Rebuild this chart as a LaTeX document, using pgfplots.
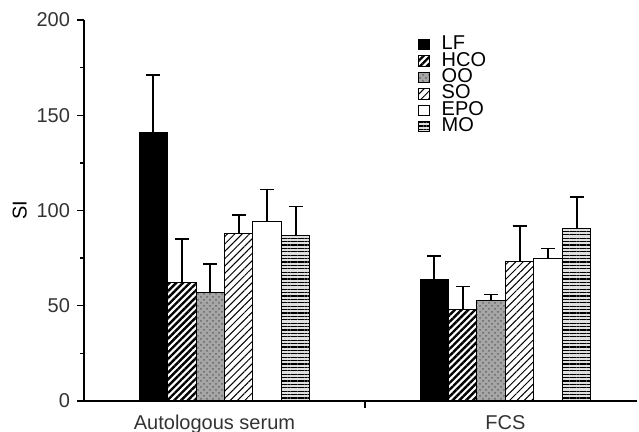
\documentclass[border=0pt]{standalone}
\usepackage{fontspec}
\setmainfont{Liberation Sans}
\usepackage{pgfplots}
\pgfplotsset{compat=1.18}
\usetikzlibrary{patterns,patterns.meta}

\begin{document}
\begin{tikzpicture}
\begin{axis}[
  scale only axis, width=276.5pt, height=190.5pt,
  xmin=-0.5, xmax=1.468, ymin=0, ymax=200,
  axis x line*=bottom, axis y line*=left,
  axis line style={line width=0.8pt, -},
  ybar=0pt, bar width=0.1014,
  ytick={0,50,...,200}, minor ytick={25,75,...,175},
  tick align=outside, major tick length=3.5pt, minor tick length=2pt,
  tick style={black, line width=0.7pt},
  xtick={0.5}, xticklabels={},
  extra x ticks={0,1}, extra x tick labels={\hspace*{-10pt}Autologous serum, FCS},
  extra x tick style={tick style={draw=none}},
  /pgf/number format/assume math mode=true,
  tick label style={font=\fontsize{10}{12}\selectfont, text=black!80},
  ylabel={SI},
  ylabel style={at={(axis description cs:-0.116,0.5)}, anchor=center, font=\fontsize{10}{12}\selectfont},
  error bars/y dir=plus, error bars/y explicit,
  error bars/error bar style={line width=0.8pt, black},
  error bars/error mark options={rotate=90, line width=0.8pt, mark size=3.5pt, black},
  legend style={draw=none, fill=none, at={(rel axis cs:0.593,0.965)}, anchor=north west,
    font=\fontsize{10}{11}\selectfont, row sep=1.2pt,
    nodes={inner ysep=0pt, text height=6pt, text depth=1pt},
    /tikz/every odd column/.append style={column sep=4pt}},
  legend cell align=left,
  legend image code/.code={\draw[#1,draw=black,line width=0.5pt] (0pt,-2.6pt) rectangle (5.2pt,2.6pt);},
]
% LF
\addplot[fill=black, draw=black, line width=0.5pt]
  coordinates {(0,141) +- (0,30) (1,64) +- (0,12)};
% HCO
\addplot[draw=black, line width=0.5pt, pattern={Lines[angle=45,distance=2.4pt,line width=1.2pt]}]
  coordinates {(0,62) +- (0,23) (1,48) +- (0,12)};
% OO
\addplot[draw=black, line width=0.5pt, fill=gray!70, postaction={pattern=crosshatch dots, pattern color=black!60}]
  coordinates {(0,57) +- (0,15) (1,52.5) +- (0,3.5)};
% SO
\addplot[draw=black, line width=0.5pt, pattern={Lines[angle=45,distance=2.6pt,line width=0.5pt]}]
  coordinates {(0,88) +- (0,9.5) (1,73) +- (0,19)};
% EPO
\addplot[draw=black, line width=0.5pt, fill=white]
  coordinates {(0,94) +- (0,17) (1,75) +- (0,5)};
% MO
\addplot[draw=black, line width=0.5pt, fill=gray!25, postaction={pattern={Lines[angle=0,distance=1.7pt,line width=0.6pt]}}]
  coordinates {(0,87) +- (0,15) (1,90.5) +- (0,16.5)};
\legend{LF, HCO, OO, SO, EPO, MO}
\end{axis}
\pgfresetboundingbox
\useasboundingbox (-42pt,-15.5pt) rectangle (277.5pt,200.5pt);
\end{tikzpicture}
\end{document}
